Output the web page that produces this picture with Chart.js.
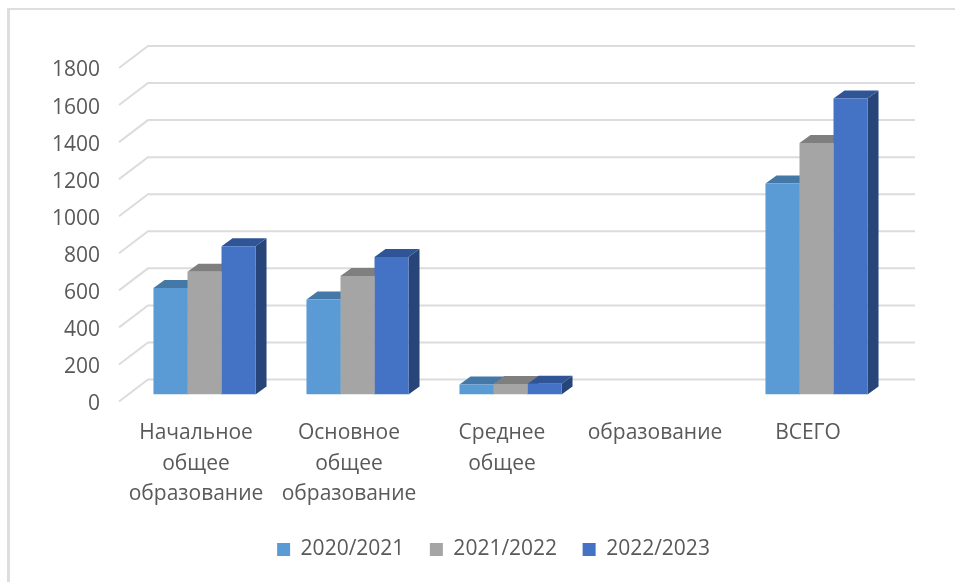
<!DOCTYPE html>
<html lang="ru">
<head>
<meta charset="utf-8">
<title>Контингент обучающихся</title>
<script src="https://cdn.jsdelivr.net/npm/chart.js@4"></script>
<style>
  html, body { margin: 0; padding: 0; background: #fff; overflow: hidden; }
  #wrap { position: relative; width: 955px; height: 582px; }
  #frame { position: absolute; left: 7px; top: 8px; right: 0; bottom: 0;
           border-left: 3px solid #dedede; border-top: 2px solid #dedede; }
  canvas { position: absolute; left: 0; top: 0; }
</style>
</head>
<body>
<div id="wrap">
  <div id="frame"></div>
  <canvas id="chart" width="955" height="582"></canvas>
</div>
<script>
// Data
const categories = [
  ['Начальное', 'общее', 'образование'],
  ['Основное', 'общее', 'образование'],
  ['Среднее', 'общее'],
  'образование',
  'ВСЕГО'
];
const seriesNames = ['2020/2021', '2021/2022', '2022/2023'];
const values2020 = [575, 513, 54, null, 1139];
const values2021 = [662, 640, 56, null, 1357];
const values2022 = [800, 742, 58, null, 1598];

// Colours: front, top and side faces
const frontColors = ['#5b9bd5', '#a5a5a5', '#4472c4'];
const topColors = ['#4478a6', '#7f7f7f', '#2f5597'];
const sideColors = ['#3a6a96', '#6e6e6e', '#28457a'];

const TEXT = '#595959';
const GRID = '#dcdcdc';
const FONT = "'Open Sans', sans-serif";

// Bars sit in the middle of the floor: depth of the bar, and of the whole floor
const BAR_DX = 11, BAR_DY = 8;
const FLOOR_LEFT = 119, WALL_LEFT = 148, WALL_RIGHT = 915;
const FRONT_DROP = 7, BACK_RISE = 15;
const LEGEND_SHIFT = 24.5;

// Back wall lines with the slanted part on the left side wall
const wallGrid = {
  id: 'wallGrid',
  beforeDatasetsDraw(chart) {
    const ctx = chart.ctx;
    const y = chart.scales.y;
    ctx.save();
    ctx.strokeStyle = GRID;
    ctx.lineWidth = 2;
    y.ticks.forEach(t => {
      const p = y.getPixelForValue(t.value);
      ctx.beginPath();
      ctx.moveTo(FLOOR_LEFT, p + FRONT_DROP);
      ctx.lineTo(WALL_LEFT, p - BACK_RISE);
      ctx.lineTo(WALL_RIGHT, p - BACK_RISE);
      ctx.stroke();
    });
    ctx.restore();
  }
};

// Top and side faces of the bars, the fronts are drawn over them by Chart.js
const barFaces = {
  id: 'barFaces',
  beforeDatasetsDraw(chart) {
    const ctx = chart.ctx;
    ctx.save();
    seriesNames.forEach((name, i) => {
      const data = chart.data.datasets[i].data;
      chart.getDatasetMeta(i).data.forEach((bar, k) => {
        if (data[k] === null) return;
        const l = bar.x - bar.width / 2;
        const r = bar.x + bar.width / 2;
        ctx.fillStyle = sideColors[i];
        ctx.beginPath();
        ctx.moveTo(r, bar.y);
        ctx.lineTo(r + BAR_DX, bar.y - BAR_DY);
        ctx.lineTo(r + BAR_DX, bar.base - BAR_DY);
        ctx.lineTo(r, bar.base);
        ctx.closePath();
        ctx.fill();
        ctx.fillStyle = topColors[i];
        ctx.beginPath();
        ctx.moveTo(l, bar.y);
        ctx.lineTo(l + BAR_DX, bar.y - BAR_DY);
        ctx.lineTo(r + BAR_DX, bar.y - BAR_DY);
        ctx.lineTo(r, bar.y);
        ctx.closePath();
        ctx.fill();
      });
    });
    ctx.restore();
  }
};

// The legend is centred a bit right of the canvas middle
const legendShift = {
  id: 'legendShift',
  afterLayout(chart) {
    chart.legend.left += LEGEND_SHIFT;
    chart.legend.right += LEGEND_SHIFT;
  }
};

new Chart(document.getElementById('chart').getContext('2d'), {
  type: 'bar',
  data: {
    labels: categories,
    datasets: [
      { label: seriesNames[0], data: values2020, backgroundColor: frontColors[0] },
      { label: seriesNames[1], data: values2021, backgroundColor: frontColors[1] },
      { label: seriesNames[2], data: values2022, backgroundColor: frontColors[2] }
    ]
  },
  plugins: [wallGrid, barFaces, legendShift],
  options: {
    responsive: false,
    animation: false,
    categoryPercentage: 0.667,
    barPercentage: 1,
    layout: { padding: { left: 45, right: 62, top: 61, bottom: 12 } },
    plugins: {
      tooltip: { enabled: false },
      legend: {
        position: 'bottom',
        labels: {
          boxWidth: 13,
          boxHeight: 13,
          padding: 25.5,
          color: TEXT,
          font: { family: FONT, size: 21 }
        }
      }
    },
    scales: {
      x: {
        grid: { display: false, drawTicks: false },
        border: { display: false },
        afterFit(scale) { scale.height = 119; },
        ticks: {
          color: TEXT,
          padding: 24,
          labelOffset: -8.5,
          autoSkip: false,
          maxRotation: 0,
          font: { family: FONT, size: 21, lineHeight: 1.43 }
        }
      },
      y: {
        min: 0,
        max: 1800,
        grid: { display: false, drawTicks: false },
        border: { display: false },
        afterFit(scale) { scale.width = 83; },
        ticks: {
          stepSize: 200,
          color: TEXT,
          padding: 28,
          labelOffset: 9.5,
          callback: value => String(value),
          font: { family: FONT, size: 21 }
        }
      }
    }
  }
});
</script>
</body>
</html>
